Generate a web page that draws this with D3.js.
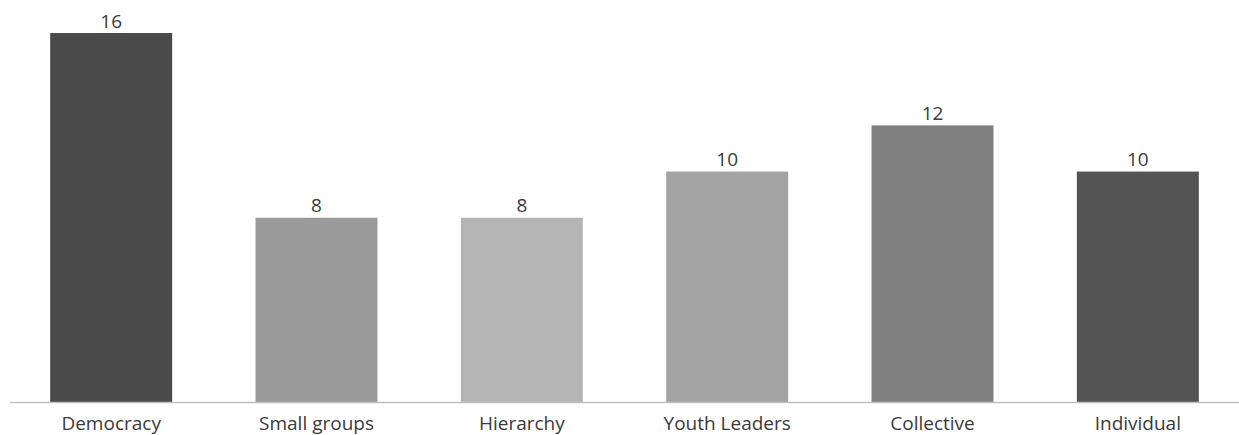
<!DOCTYPE html>
<html><head><meta charset="utf-8">
<script src="https://cdn.jsdelivr.net/npm/d3@7"></script>
<style>html,body{margin:0;padding:0;background:#fff;}</style>
</head><body>
<script>
const categories = ["Democracy","Small groups","Hierarchy","Youth Leaders","Collective","Individual"];
const values = [16,8,8,10,12,10];
const colors = ["#4a4a4a","#9a9a9a","#b4b4b4","#a4a4a4","#808080","#545454"];

const W=1239,H=435;
const svg=d3.select("body").append("svg").attr("width",W).attr("height",H);
const x=d3.scaleBand().domain(categories).range([8.5,1240.5]).paddingInner(0.406).paddingOuter(0.203);
const y=d3.scaleLinear().domain([0,16]).range([402.5,33]);
const FONT="'Open Sans','Noto Sans',sans-serif";

svg.selectAll("rect.bar").data(categories).join("rect")
  .attr("class","bar")
  .attr("x",d=>x(d)).attr("width",x.bandwidth())
  .attr("y",(d,i)=>y(values[i])).attr("height",(d,i)=>y(0)-y(values[i]))
  .attr("fill",(d,i)=>colors[i]);

const ax=svg.append("g").attr("transform",`translate(0,${y(0)})`)
  .call(d3.axisBottom(x).tickSize(0).tickPadding(14));
ax.select(".domain").attr("d","M10,0H1239").attr("stroke","#bfbfbf").attr("stroke-width",1.5);
ax.selectAll("text").attr("font-family",FONT).attr("font-size",19).attr("fill","#3a3a3a");

svg.selectAll("text.val").data(categories).join("text")
  .attr("class","val")
  .attr("x",d=>x(d)+x.bandwidth()/2)
  .attr("y",(d,i)=>y(values[i])-5.5)
  .attr("text-anchor","middle")
  .attr("font-family",FONT).attr("font-size",19).attr("fill","#3a3a3a")
  .text((d,i)=>values[i]);
</script>
</body></html>
